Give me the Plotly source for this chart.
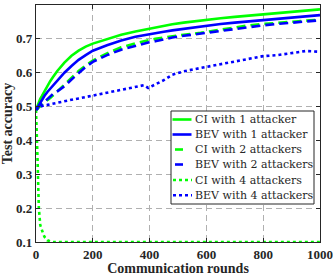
import plotly.graph_objects as go

rounds = [0, 2, 4, 6, 8, 10, 15, 20, 25, 30, 40, 50, 60, 75, 100, 125, 150, 175, 200, 250, 300, 350,
          380, 395, 420, 450, 480, 520, 580, 650, 700, 750, 800, 850, 900, 950, 1000]

ci_1 = [0.49, 0.495, 0.50, 0.505, 0.51, 0.515, 0.523, 0.53, 0.538, 0.545, 0.56, 0.575, 0.587, 0.605, 0.630,
        0.650, 0.665, 0.677, 0.686, 0.700, 0.712, 0.722, 0.727, 0.729, 0.733, 0.738, 0.743, 0.748, 0.755,
        0.761, 0.765, 0.769, 0.772, 0.776, 0.779, 0.783, 0.787]
bev_1 = [0.49, 0.493, 0.496, 0.50, 0.503, 0.506, 0.513, 0.52, 0.526, 0.532, 0.543, 0.553, 0.562, 0.578, 0.600,
         0.620, 0.638, 0.652, 0.665, 0.681, 0.695, 0.706, 0.711, 0.714, 0.717, 0.721, 0.725, 0.730, 0.737,
         0.744, 0.748, 0.752, 0.756, 0.760, 0.763, 0.767, 0.770]
ci_2 = [0.49, 0.491, 0.492, 0.493, 0.495, 0.497, 0.501, 0.505, 0.509, 0.513, 0.519, 0.525, 0.532, 0.545, 0.565,
        0.586, 0.605, 0.621, 0.636, 0.657, 0.675, 0.687, 0.693, 0.696, 0.700, 0.704, 0.708, 0.712, 0.718,
        0.727, 0.735, 0.740, 0.744, 0.747, 0.750, 0.754, 0.757]
bev_2 = [0.49, 0.493, 0.495, 0.497, 0.499, 0.501, 0.505, 0.508, 0.51, 0.514, 0.522, 0.530, 0.537, 0.545, 0.560,
         0.580, 0.600, 0.617, 0.632, 0.652, 0.668, 0.680, 0.686, 0.689, 0.693, 0.699, 0.704, 0.709, 0.716,
         0.724, 0.730, 0.735, 0.740, 0.744, 0.748, 0.752, 0.755]
ci_4 = [0.49, 0.45, 0.40, 0.33, 0.26, 0.20, 0.15, 0.135, 0.125, 0.115, 0.105, 0.102, 0.100, 0.100, 0.100,
        0.100, 0.100, 0.100, 0.100, 0.100, 0.100, 0.100, 0.100, 0.100, 0.100, 0.100, 0.100, 0.100, 0.100,
        0.100, 0.100, 0.100, 0.100, 0.100, 0.100, 0.100, 0.100]
bev_4 = [0.49, 0.492, 0.494, 0.495, 0.496, 0.497, 0.500, 0.502, 0.503, 0.504, 0.505, 0.507, 0.509, 0.511, 0.515,
         0.520, 0.524, 0.528, 0.533, 0.540, 0.548, 0.558, 0.563, 0.555, 0.565, 0.578, 0.594, 0.604, 0.614,
         0.625, 0.632, 0.641, 0.649, 0.652, 0.658, 0.664, 0.662]

x_ticks = [0, 200, 400, 600, 800, 1000]
y_ticks = [0.1, 0.2, 0.3, 0.4, 0.5, 0.6, 0.7, 0.8]

GREEN = "#00FF00"
BLUE = "#0000FF"
DARK = "#262626"
SERIF = "Liberation Serif, Times New Roman, serif"
LEG_FONT = "DejaVu Serif, serif"

series = [
    ("CI with 1 attacker", ci_1, GREEN, "solid"),
    ("BEV with 1 attacker", bev_1, BLUE, "solid"),
    ("CI with 2 attackers", ci_2, GREEN, "9px,5px"),
    ("BEV with 2 attackers", bev_2, BLUE, "9px,5px"),
    ("CI with 4 attackers", ci_4, GREEN, "3px,3px"),
    ("BEV with 4 attackers", bev_4, BLUE, "3px,3px"),
]

# figure geometry (pixels)
W, H = 333, 276
ML, MR, MT, MB = 36, 13, 5, 34
PW, PH = W - ML - MR, H - MT - MB


def px_x(px):
    return (px - ML) / PW


def px_y(py):
    return (H - MB - py) / PH


fig = go.Figure()
for name, ys, color, dash in series:
    fig.add_trace(go.Scatter(x=rounds, y=ys, mode="lines", name=name, showlegend=False,
                             line=dict(color=color, width=2.6, dash=dash)))

axis_common = dict(
    showline=True, linecolor=DARK, linewidth=1.2, mirror="ticks",
    ticks="inside", ticklen=4, tickcolor=DARK,
    showgrid=True, gridcolor="#B0B0B0", griddash="6px,4px", gridwidth=1,
    zeroline=False, automargin=False,
    tickfont=dict(family=SERIF, size=13, color=DARK, weight="bold"),
)

fig.update_xaxes(range=[0, 1000], tickvals=x_ticks, ticktext=[str(v) for v in x_ticks],
                 title=dict(text="Communication rounds", standoff=2,
                            font=dict(family=SERIF, size=14, color=DARK, weight="bold")),
                 **axis_common)
fig.update_yaxes(range=[0.1, 0.8], tickvals=y_ticks, ticktext=[f"{v:.1f}" for v in y_ticks],
                 title=dict(text="Test accuracy", standoff=2,
                            font=dict(family=SERIF, size=14, color=DARK, weight="bold")),
                 **axis_common)

# legend drawn as a box with line samples and labels
shapes = [dict(type="rect", xref="paper", yref="paper",
               x0=px_x(171), x1=px_x(314), y0=px_y(204), y1=px_y(111),
               fillcolor="white", line=dict(color=DARK, width=1), layer="above")]
annotations = []
row_y = [119.5, 134.5, 149.5, 164.5, 180, 195.3]
for (name, ys, color, dash), ry in zip(series, row_y):
    if dash == "solid":
        x0, x1 = 172.5, 191.5
    elif dash == "9px,5px":
        x0, x1 = 175, 183
    else:
        x0, x1 = 173, 192
    shapes.append(dict(type="line", xref="paper", yref="paper",
                       x0=px_x(x0), x1=px_x(x1), y0=px_y(ry), y1=px_y(ry),
                       line=dict(color=color, width=2.6, dash="solid" if dash != "3px,3px" else "3px,3px"),
                       layer="above"))
    annotations.append(dict(xref="paper", yref="paper", x=px_x(193), y=px_y(ry),
                            xanchor="left", yanchor="middle", showarrow=False,
                            text=name, font=dict(family=LEG_FONT, size=11, color=DARK)))

fig.update_layout(
    width=W, height=H,
    margin=dict(l=ML, r=MR, t=MT, b=MB),
    paper_bgcolor="white", plot_bgcolor="white",
    showlegend=False,
    shapes=shapes, annotations=annotations,
)

fig.write_html("out.html", config={"displayModeBar": False, "staticPlot": True},
               post_script="document.body.style.margin='0';document.body.style.overflow='hidden';")
